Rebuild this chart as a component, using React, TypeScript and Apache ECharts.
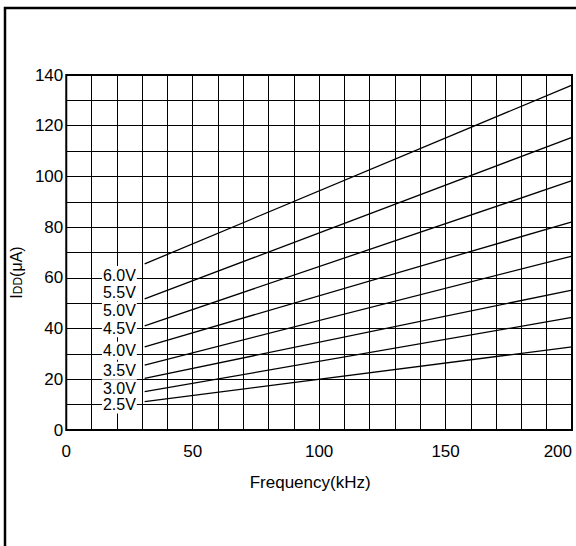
import React, { useEffect, useRef } from "react";
import * as echarts from "echarts";

// Supply voltage curves: IDD (µA) vs frequency (kHz)
const voltages = ["6.0V", "5.5V", "5.0V", "4.5V", "4.0V", "3.5V", "3.0V", "2.5V"];
const freqStart = 31;
const freqEnd = 200;
const iddAtStart = [65.5, 51.7, 41.1, 32.8, 25.6, 20.4, 15.1, 11.2];
const iddAtEnd = [136.0, 115.4, 98.3, 82.1, 68.6, 55.2, 44.4, 32.8];
// label anchor points (data coordinates)
const labelFreq = 21;
const labelIdd = [61.1, 54.3, 47.0, 40.1, 31.3, 23.4, 16.2, 10.1];

const xTicks = [0, 50, 100, 150, 200];
const yTicks = [0, 20, 40, 60, 80, 100, 120, 140];

const FONT = "Liberation Sans, Arial, sans-serif";

export default function App() {
  const ref = useRef<HTMLDivElement>(null);
  useEffect(() => {
    if (!ref.current) return;
    const chart = echarts.init(ref.current, null, { renderer: "svg" });
    const lineSeries = voltages.map((v, i) => ({
      type: "line",
      name: v,
      data: [
        [freqStart, iddAtStart[i]],
        [freqEnd, iddAtEnd[i]],
      ],
      symbol: "none",
      lineStyle: { color: "#000", width: 1.3 },
      silent: true,
      z: 3,
    }));
    const labelSeries = {
      type: "custom",
      data: voltages.map((v, i) => [labelFreq, labelIdd[i], i]),
      silent: true,
      z: 4,
      clip: false,
      renderItem: (params: any, api: any) => {
        const p = api.coord([api.value(0), api.value(1)]);
        const idx = api.value(2);
        return {
          type: "text",
          x: p[0],
          y: p[1],
          style: {
            text: voltages[idx],
            fill: "#000",
            font: `16px ${FONT}`,
            align: "center",
            verticalAlign: "middle",
            backgroundColor: "#fff",
            padding: [1, 1],
          },
        };
      },
    };
    chart.setOption({
      animation: false,
      backgroundColor: "#fff",
      textStyle: { fontFamily: FONT },
      graphic: [
        {
          type: "rect",
          shape: { x: 5, y: 8, width: 640, height: 640 },
          style: { fill: "none", stroke: "#000", lineWidth: 2.5 },
          silent: true,
          z: 0,
        },
      ],
      grid: {
        left: 63,
        right: 4,
        top: 75,
        bottom: 116,
        show: true,
        borderColor: "#000",
        borderWidth: 2,
        backgroundColor: "transparent",
        z: 5,
      },
      xAxis: {
        type: "value",
        min: 0,
        max: 200,
        interval: 10,
        name: "Frequency(kHz)",
        nameLocation: "middle",
        nameGap: 44,
        nameTextStyle: { color: "#000", fontSize: 17, fontFamily: FONT, padding: [0, 18, 0, 0] },
        axisLine: { show: false },
        axisTick: { show: false },
        axisLabel: {
          color: "#000",
          fontSize: 17,
          fontFamily: FONT,
          margin: 13,
          alignMaxLabel: "right",
          formatter: (v: number) => (xTicks.includes(v) ? String(v) : ""),
        },
        splitLine: { show: true, lineStyle: { color: "#000", width: 1 } },
      },
      yAxis: {
        type: "value",
        min: 0,
        max: 140,
        interval: 10,
        name: "I{sub|DD}(μA)",
        nameLocation: "middle",
        nameGap: 25,
        nameRotate: 90,
        nameTextStyle: {
          color: "#000",
          fontSize: 16,
          fontFamily: FONT,
          padding: [0, 40, 0, 0],
          rich: {
            sub: { fontSize: 12, fontFamily: FONT, color: "#000", verticalAlign: "bottom", padding: [4, 0, 0, 0] },
          },
        },
        axisLine: { show: false },
        axisTick: { show: false },
        axisLabel: {
          color: "#000",
          fontSize: 17,
          fontFamily: FONT,
          margin: 3,
          formatter: (v: number) => (yTicks.includes(v) ? String(v) : ""),
        },
        splitLine: { show: true, lineStyle: { color: "#000", width: 1 } },
      },
      series: [...lineSeries, labelSeries],
    });
    return () => chart.dispose();
  }, []);
  return (
    <div
      ref={ref}
      style={{ position: "fixed", left: 0, top: 0, width: 576, height: 546 }}
    />
  );
}
